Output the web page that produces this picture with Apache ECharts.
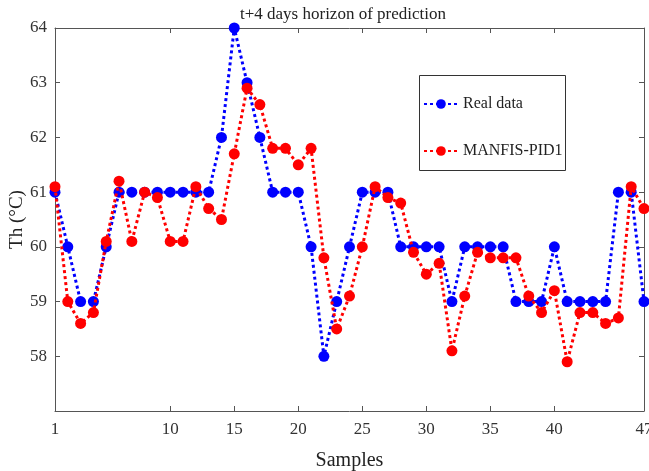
<!DOCTYPE html>
<html>
<head>
<meta charset="utf-8">
<script src="https://cdn.jsdelivr.net/npm/echarts@6/dist/echarts.min.js"></script>
<style>html,body{margin:0;padding:0;background:#fff}#c{width:649px;height:471px}</style>
</head>
<body>
<div id="c"></div>
<script>
const samples = Array.from({length: 47}, (_, i) => i + 1);
const realData = [61,60,59,59,60,61,61,61,61,61,61,61,61,62,64,63,62,61,61,61,60,58,59,60,61,61,61,60,60,60,60,59,60,60,60,60,59,59,59,60,59,59,59,59,61,61,59];
const manfisPid1 = [61.1,59.0,58.6,58.8,60.1,61.2,60.1,61.0,60.9,60.1,60.1,61.1,60.7,60.5,61.7,62.9,62.6,61.8,61.8,61.5,61.8,59.8,58.5,59.1,60.0,61.1,60.9,60.8,59.9,59.5,59.7,58.1,59.1,59.9,59.8,59.8,59.8,59.1,58.8,59.2,57.9,58.8,58.8,58.6,58.7,61.1,60.7];
const xTicks = [1,10,15,20,25,30,35,40,47];
const yTicks = [58,59,60,61,62,63,64];

const font = 'Liberation Serif';
const axisColor = '#555';
const pair = (arr) => samples.map((s, i) => [s, arr[i]]);

const chart = echarts.init(document.getElementById('c'), null, {renderer: 'canvas'});
chart.setOption({
  animation: false,
  backgroundColor: '#fff',
  title: {
    text: 't+4 days horizon of prediction',
    left: 338, top: 1, textAlign: 'center',
    textStyle: {fontFamily: font, fontSize: 17, fontWeight: 'normal', color: '#222'}
  },
  grid: {left: 55, right: 5, top: 28, bottom: 60, containLabel: false, outerBoundsMode: 'none'},
  legend: {
    orient: 'vertical', left: 418, top: 91, itemWidth: 34, itemHeight: 12, itemGap: 31,
    textStyle: {fontFamily: font, fontSize: 16, color: '#222'},
    data: ['Real data', 'MANFIS-PID1']
  },
  graphic: [{
    type: 'rect', left: 417, top: 73, shape: {width: 146, height: 95},
    style: {fill: 'none', stroke: '#333', lineWidth: 1}, z: 0
  }],
  xAxis: [{
    type: 'value', min: 1, max: 47, position: 'bottom',
    name: 'Samples', nameLocation: 'middle', nameGap: 40, nameMoveOverlap: false,
    nameTextStyle: {fontFamily: font, fontSize: 20, color: '#222'},
    axisLine: {show: true, lineStyle: {color: axisColor}},
    axisTick: {show: true, inside: true, length: 5, customValues: xTicks, lineStyle: {color: axisColor}},
    axisLabel: {customValues: xTicks, fontFamily: font, fontSize: 17, color: '#333', margin: 10},
    splitLine: {show: false}
  }, {
    type: 'value', min: 1, max: 47, position: 'top',
    axisLine: {show: true, lineStyle: {color: axisColor}},
    axisTick: {show: true, inside: true, length: 5, customValues: xTicks, lineStyle: {color: axisColor}},
    axisLabel: {show: false}, splitLine: {show: false}
  }],
  yAxis: [{
    type: 'value', min: 57, max: 64, position: 'left',
    name: 'Th (°C)', nameLocation: 'middle', nameGap: 28, nameRotate: 90, nameMoveOverlap: false,
    nameTextStyle: {fontFamily: font, fontSize: 19, color: '#222'},
    axisLine: {show: true, lineStyle: {color: axisColor}},
    axisTick: {show: true, inside: true, length: 5, customValues: yTicks, lineStyle: {color: axisColor}},
    axisLabel: {customValues: yTicks, fontFamily: font, fontSize: 17, color: '#333', margin: 8},
    splitLine: {show: false}
  }, {
    type: 'value', min: 57, max: 64, position: 'right',
    axisLine: {show: true, lineStyle: {color: axisColor}},
    axisTick: {show: true, inside: true, length: 5, customValues: yTicks, lineStyle: {color: axisColor}},
    axisLabel: {show: false}, splitLine: {show: false}
  }],
  series: [{
    name: 'Real data', type: 'line', xAxisIndex: 0, yAxisIndex: 0,
    data: pair(realData),
    symbol: 'circle', symbolSize: 11,
    itemStyle: {color: '#0000ff'},
    lineStyle: {color: '#0000ff', width: 3, type: [3, 3]},
    z: 3
  }, {
    name: 'MANFIS-PID1', type: 'line', xAxisIndex: 0, yAxisIndex: 0,
    data: pair(manfisPid1),
    symbol: 'circle', symbolSize: 11,
    itemStyle: {color: '#ff0000'},
    lineStyle: {color: '#ff0000', width: 3, type: [3, 3]},
    z: 4
  }]
});
</script>
</body>
</html>
